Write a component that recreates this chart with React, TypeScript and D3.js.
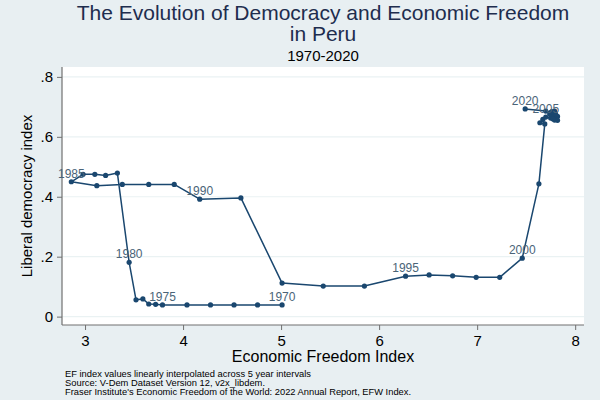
import React, { useEffect, useRef } from 'react';
import * as d3 from 'd3';

// years, EF index (x), liberal democracy index (y)
const years = [
    1970, 1971, 1972, 1973, 1974, 1975, 1976, 1977, 1978, 1979,
    1980, 1981, 1982, 1983, 1984, 1985, 1986, 1987, 1988, 1989,
    1990, 1991, 1992, 1993, 1994, 1995, 1996, 1997, 1998, 1999,
    2000, 2001, 2002, 2003, 2004, 2005, 2006, 2007, 2008, 2009,
    2010, 2011, 2012, 2013, 2014, 2015, 2016, 2017, 2018, 2019, 2020
]
const efIndex = [
    5.01, 4.76, 4.52, 4.28, 4.04, 3.79, 3.72, 3.65, 3.59, 3.52,
    3.45, 3.33, 3.21, 3.10, 2.98, 2.86, 3.12, 3.38, 3.65, 3.91,
    4.17, 4.59, 5.01, 5.43, 5.85, 6.27, 6.51, 6.75, 6.99, 7.23,
    7.46, 7.63, 7.69, 7.64, 7.67, 7.70, 7.75, 7.78, 7.76, 7.79,
    7.77, 7.80, 7.82, 7.80, 7.82, 7.79, 7.77, 7.74, 7.76, 7.70, 7.49
]
const libDem = [
    0.039, 0.039, 0.039, 0.039, 0.039, 0.039, 0.041, 0.042, 0.059, 0.056,
    0.181, 0.479, 0.471, 0.475, 0.475, 0.450, 0.437, 0.441, 0.441, 0.441,
    0.392, 0.396, 0.112, 0.102, 0.102, 0.135, 0.139, 0.136, 0.131, 0.131,
    0.195, 0.443, 0.643, 0.647, 0.658, 0.666, 0.663, 0.672, 0.683, 0.686,
    0.680, 0.677, 0.668, 0.660, 0.655, 0.656, 0.660, 0.676, 0.683, 0.686, 0.693
]
const labelledYears = [1970, 1975, 1980, 1985, 1990, 1995, 2000, 2005, 2020]

const xTicks = [3, 4, 5, 6, 7, 8]
const yTicks = [0, 0.2, 0.4, 0.6, 0.8]
const yTickLabels = ['0', '.2', '.4', '.6', '.8']

const notes = [
    'EF index values linearly interpolated across 5 year intervals',
    'Source: V-Dem Dataset Version 12, v2x_libdem.',
    "Fraser Institute's Economic Freedom of the World: 2022 Annual Report, EFW Index."
]

export default function App() {
    const ref = useRef<HTMLDivElement>(null)

    useEffect(() => {
        document.body.style.margin = '0'
        const el = ref.current
        if (!el) return
        d3.select(el).selectAll('*').remove()

        const W = 600, H = 400
        const left = 62, right = 584, top = 67, bottom = 325
        const font = 'Liberation Sans, Arial, sans-serif'
        const navy = '#1a476f'

        const svg = d3.select(el)
            .append('svg')
            .attr('width', W)
            .attr('height', H)
            .style('display', 'block')
            .style('font-family', font)

        svg.append('rect').attr('width', W).attr('height', H).attr('fill', '#e8eff2')
        svg.append('rect')
            .attr('x', left).attr('y', top)
            .attr('width', right - left).attr('height', bottom - top)
            .attr('fill', '#ffffff')

        const x = d3.scaleLinear().domain([2.765, 8.09]).range([left, right])
        const y = d3.scaleLinear().domain([-0.028, 0.833]).range([bottom, top])

        // grid
        svg.append('g')
            .selectAll('line')
            .data(yTicks)
            .enter()
            .append('line')
            .attr('x1', left).attr('x2', right)
            .attr('y1', d => y(d)).attr('y2', d => y(d))
            .attr('stroke', '#eaf2f3')
            .attr('stroke-width', 1.2)

        // axes
        const yAxis = svg.append('g')
            .attr('transform', `translate(${left},0)`)
            .call(d3.axisLeft(y).tickValues(yTicks).tickSize(5).tickPadding(4)
                .tickFormat((d, i) => yTickLabels[i]))
        const xAxis = svg.append('g')
            .attr('transform', `translate(0,${bottom})`)
            .call(d3.axisBottom(x).tickValues(xTicks).tickSize(5).tickPadding(5)
                .tickFormat(d3.format('d')))

        for (const ax of [xAxis, yAxis]) {
            ax.select('.domain').attr('stroke', '#707070').attr('stroke-width', 1.2)
            ax.selectAll('.tick line').attr('stroke', '#707070')
            ax.selectAll('.tick text')
                .attr('fill', '#000')
                .style('font-size', '15px')
                .style('font-family', font)
        }
        // domains stop at the plot edges only
        yAxis.select('.domain').attr('d', `M0,${top}V${bottom}`)
        xAxis.select('.domain').attr('d', `M${left},0H${right}`)

        // line
        const pts = years.map((yr, i) => ({ year: yr, ef: efIndex[i], ld: libDem[i] }))
        const line = d3.line<any>().x(d => x(d.ef)).y(d => y(d.ld))
        svg.append('path')
            .datum(pts)
            .attr('d', line)
            .attr('fill', 'none')
            .attr('stroke', navy)
            .attr('stroke-width', 1.5)
            .attr('stroke-linejoin', 'round')

        svg.append('g')
            .selectAll('circle')
            .data(pts)
            .enter()
            .append('circle')
            .attr('cx', d => x(d.ef))
            .attr('cy', d => y(d.ld))
            .attr('r', 2.6)
            .attr('fill', navy)

        svg.append('g')
            .selectAll('text')
            .data(pts.filter(d => labelledYears.includes(d.year)))
            .enter()
            .append('text')
            .attr('x', d => x(d.ef))
            .attr('y', d => y(d.ld) - 4)
            .attr('text-anchor', 'middle')
            .attr('fill', '#4a6478')
            .style('font-size', '12px')
            .text(d => d.year)

        // titles
        const mid = (left + right) / 2
        svg.append('text')
            .attr('x', mid).attr('y', 20)
            .attr('text-anchor', 'middle')
            .attr('fill', '#1e2d4e')
            .style('font-size', '21px')
            .text('The Evolution of Democracy and Economic Freedom')
        svg.append('text')
            .attr('x', mid).attr('y', 41)
            .attr('text-anchor', 'middle')
            .attr('fill', '#1e2d4e')
            .style('font-size', '21px')
            .text('in Peru')
        svg.append('text')
            .attr('x', mid).attr('y', 61)
            .attr('text-anchor', 'middle')
            .attr('fill', '#000')
            .style('font-size', '15px')
            .text('1970-2020')

        svg.append('text')
            .attr('x', mid).attr('y', 362)
            .attr('text-anchor', 'middle')
            .attr('fill', '#000')
            .style('font-size', '16px')
            .text('Economic Freedom Index')

        svg.append('text')
            .attr('transform', `translate(32,${(top + bottom) / 2}) rotate(-90)`)
            .attr('text-anchor', 'middle')
            .attr('fill', '#000')
            .style('font-size', '15px')
            .text('Liberal democracy index')

        svg.append('g')
            .selectAll('text')
            .data(notes)
            .enter()
            .append('text')
            .attr('x', 65)
            .attr('y', (d, i) => 377 + i * 8.8)
            .attr('fill', '#000')
            .style('font-size', '8.6px')
            .attr('textLength', (d, i) => [246, 200, 346][i])
            .attr('lengthAdjust', 'spacingAndGlyphs')
            .text(d => d)
    }, [])

    return <div ref={ref}></div>
}
